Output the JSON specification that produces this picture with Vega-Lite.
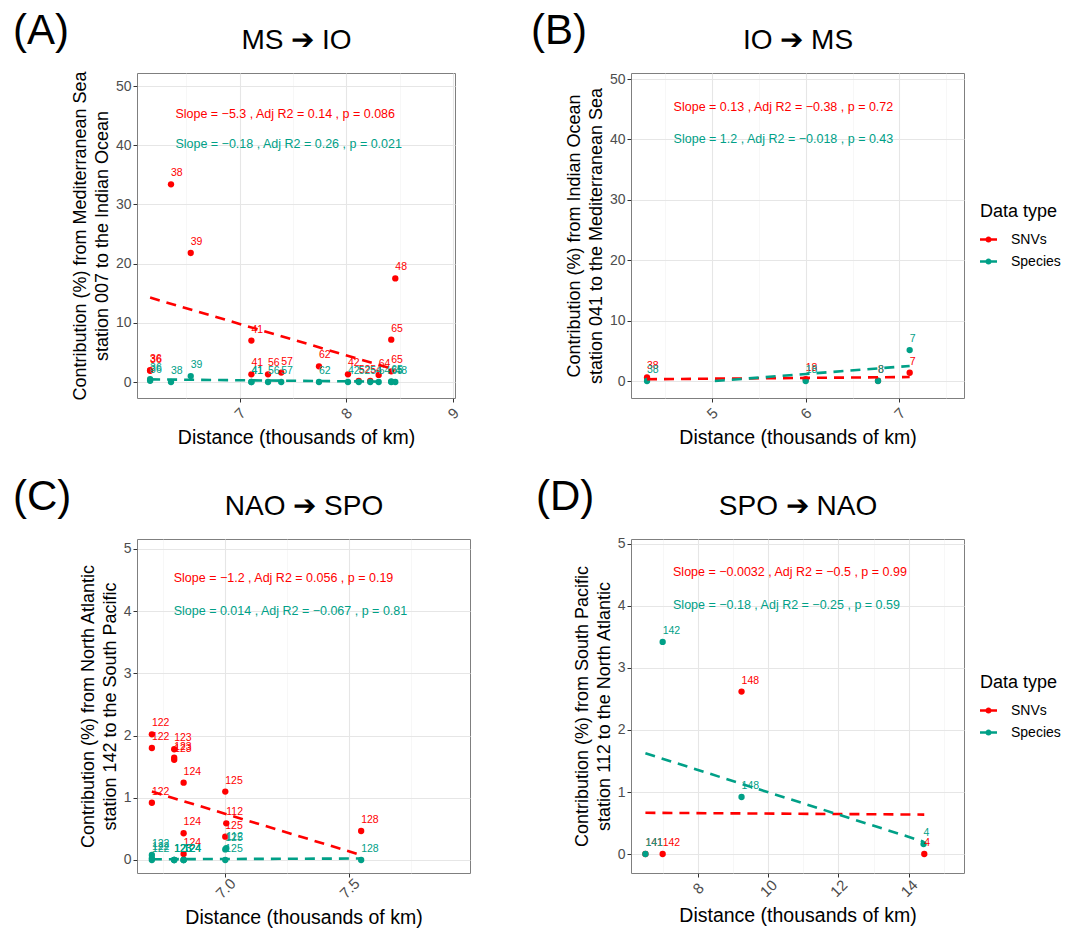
{
 "$schema": "https://vega.github.io/schema/vega-lite/v6.json",
 "background": "white",
 "padding": {"left": 12, "top": 9, "right": 5, "bottom": 5},
 "datasets": {
  "points": [
   {"p":"A","station":"36","distance":6.16,"value":2.0,"type":"SNVs"},
   {"p":"A","station":"36","distance":6.16,"value":1.9,"type":"SNVs"},
   {"p":"A","station":"38","distance":6.356,"value":33.4,"type":"SNVs"},
   {"p":"A","station":"39","distance":6.541,"value":21.8,"type":"SNVs"},
   {"p":"A","station":"41","distance":7.11,"value":7.0,"type":"SNVs"},
   {"p":"A","station":"41","distance":7.11,"value":1.3,"type":"SNVs"},
   {"p":"A","station":"56","distance":7.266,"value":1.3,"type":"SNVs"},
   {"p":"A","station":"57","distance":7.39,"value":1.6,"type":"SNVs"},
   {"p":"A","station":"62","distance":7.744,"value":2.65,"type":"SNVs"},
   {"p":"A","station":"42","distance":8.016,"value":1.3,"type":"SNVs"},
   {"p":"A","station":"52","distance":8.117,"value":0.2,"type":"SNVs"},
   {"p":"A","station":"54","distance":8.225,"value":0.2,"type":"SNVs"},
   {"p":"A","station":"64","distance":8.304,"value":1.2,"type":"SNVs"},
   {"p":"A","station":"65","distance":8.422,"value":7.16,"type":"SNVs"},
   {"p":"A","station":"65","distance":8.422,"value":1.8,"type":"SNVs"},
   {"p":"A","station":"48","distance":8.46,"value":17.5,"type":"SNVs"},
   {"p":"A","station":"36","distance":6.16,"value":0.5,"type":"Species"},
   {"p":"A","station":"36","distance":6.16,"value":0.2,"type":"Species"},
   {"p":"A","station":"38","distance":6.356,"value":0.0,"type":"Species"},
   {"p":"A","station":"39","distance":6.541,"value":1.0,"type":"Species"},
   {"p":"A","station":"41","distance":7.11,"value":0.0,"type":"Species"},
   {"p":"A","station":"41","distance":7.11,"value":0.0,"type":"Species"},
   {"p":"A","station":"56","distance":7.266,"value":0.0,"type":"Species"},
   {"p":"A","station":"57","distance":7.39,"value":0.0,"type":"Species"},
   {"p":"A","station":"62","distance":7.744,"value":0.0,"type":"Species"},
   {"p":"A","station":"42","distance":8.016,"value":0.0,"type":"Species"},
   {"p":"A","station":"52","distance":8.117,"value":0.0,"type":"Species"},
   {"p":"A","station":"54","distance":8.225,"value":0.0,"type":"Species"},
   {"p":"A","station":"64","distance":8.304,"value":0.0,"type":"Species"},
   {"p":"A","station":"65","distance":8.422,"value":0.1,"type":"Species"},
   {"p":"A","station":"65","distance":8.422,"value":0.0,"type":"Species"},
   {"p":"A","station":"48","distance":8.46,"value":0.0,"type":"Species"},
   {"p":"B","station":"38","distance":4.306,"value":0.6,"type":"SNVs"},
   {"p":"B","station":"18","distance":6.0,"value":0.3,"type":"SNVs"},
   {"p":"B","station":"8","distance":6.772,"value":0.05,"type":"SNVs"},
   {"p":"B","station":"7","distance":7.11,"value":1.37,"type":"SNVs"},
   {"p":"B","station":"38","distance":4.306,"value":0.0,"type":"Species"},
   {"p":"B","station":"18","distance":6.0,"value":0.0,"type":"Species"},
   {"p":"B","station":"8","distance":6.772,"value":0.0,"type":"Species"},
   {"p":"B","station":"7","distance":7.11,"value":5.13,"type":"Species"},
   {"p":"C","station":"122","distance":6.704,"value":2.02,"type":"SNVs"},
   {"p":"C","station":"122","distance":6.704,"value":1.80,"type":"SNVs"},
   {"p":"C","station":"122","distance":6.704,"value":0.92,"type":"SNVs"},
   {"p":"C","station":"123","distance":6.794,"value":1.78,"type":"SNVs"},
   {"p":"C","station":"123","distance":6.794,"value":1.645,"type":"SNVs"},
   {"p":"C","station":"123","distance":6.794,"value":1.61,"type":"SNVs"},
   {"p":"C","station":"124","distance":6.832,"value":1.243,"type":"SNVs"},
   {"p":"C","station":"124","distance":6.832,"value":0.43,"type":"SNVs"},
   {"p":"C","station":"124","distance":6.832,"value":0.096,"type":"SNVs"},
   {"p":"C","station":"125","distance":7.0,"value":1.10,"type":"SNVs"},
   {"p":"C","station":"112","distance":7.004,"value":0.59,"type":"SNVs"},
   {"p":"C","station":"125","distance":7.0,"value":0.375,"type":"SNVs"},
   {"p":"C","station":"128","distance":7.548,"value":0.466,"type":"SNVs"},
   {"p":"C","station":"122","distance":6.704,"value":0.08,"type":"Species"},
   {"p":"C","station":"122","distance":6.704,"value":0.03,"type":"Species"},
   {"p":"C","station":"122","distance":6.704,"value":0.0,"type":"Species"},
   {"p":"C","station":"123","distance":6.794,"value":0.0,"type":"Species"},
   {"p":"C","station":"123","distance":6.794,"value":0.0,"type":"Species"},
   {"p":"C","station":"123","distance":6.794,"value":0.0,"type":"Species"},
   {"p":"C","station":"124","distance":6.832,"value":0.0,"type":"Species"},
   {"p":"C","station":"124","distance":6.832,"value":0.0,"type":"Species"},
   {"p":"C","station":"124","distance":6.832,"value":0.0,"type":"Species"},
   {"p":"C","station":"125","distance":7.0,"value":0.17,"type":"Species"},
   {"p":"C","station":"112","distance":7.004,"value":0.19,"type":"Species"},
   {"p":"C","station":"125","distance":7.0,"value":0.0,"type":"Species"},
   {"p":"C","station":"128","distance":7.548,"value":0.0,"type":"Species"},
   {"p":"D","station":"141","distance":6.51,"value":0.0,"type":"SNVs"},
   {"p":"D","station":"142","distance":7.0,"value":0.0,"type":"SNVs"},
   {"p":"D","station":"148","distance":9.244,"value":2.62,"type":"SNVs"},
   {"p":"D","station":"4","distance":14.44,"value":0.0,"type":"SNVs"},
   {"p":"D","station":"141","distance":6.51,"value":0.0,"type":"Species"},
   {"p":"D","station":"142","distance":7.0,"value":3.42,"type":"Species"},
   {"p":"D","station":"148","distance":9.244,"value":0.92,"type":"Species"},
   {"p":"D","station":"4","distance":14.42,"value":0.16,"type":"Species"}
  ],
  "lines": [
   {"p":"A","type":"SNVs","distance":6.16,"value":14.26},
   {"p":"A","type":"SNVs","distance":8.46,"value":2.07},
   {"p":"A","type":"Species","distance":6.16,"value":0.45},
   {"p":"A","type":"Species","distance":8.46,"value":0.04},
   {"p":"B","type":"SNVs","distance":4.306,"value":0.3},
   {"p":"B","type":"SNVs","distance":7.11,"value":0.66},
   {"p":"B","type":"Species","distance":5.03,"value":0.0},
   {"p":"B","type":"Species","distance":7.11,"value":2.5},
   {"p":"C","type":"SNVs","distance":6.704,"value":1.10},
   {"p":"C","type":"SNVs","distance":7.548,"value":0.08},
   {"p":"C","type":"Species","distance":6.704,"value":0.012},
   {"p":"C","type":"Species","distance":7.548,"value":0.024},
   {"p":"D","type":"SNVs","distance":6.51,"value":0.665},
   {"p":"D","type":"SNVs","distance":14.44,"value":0.636},
   {"p":"D","type":"Species","distance":6.51,"value":1.625},
   {"p":"D","type":"Species","distance":14.42,"value":0.20}
  ],
  "annots": [
   {"p":"A","type":"SNVs","distance":6.397,"value":45.3,"label":"Slope =  −5.3 , Adj R2 =  0.14 , p =  0.086"},
   {"p":"A","type":"Species","distance":6.397,"value":40.2,"label":"Slope =  −0.18 , Adj R2 =  0.26 , p =  0.021"},
   {"p":"B","type":"SNVs","distance":4.59,"value":45.4,"label":"Slope =  0.13 , Adj R2 =  −0.38 , p =  0.72"},
   {"p":"B","type":"Species","distance":4.59,"value":40.05,"label":"Slope =  1.2 , Adj R2 =  −0.018 , p =  0.43"},
   {"p":"C","type":"SNVs","distance":6.792,"value":4.54,"label":"Slope =  −1.2 , Adj R2 =  0.056 , p =  0.19"},
   {"p":"C","type":"Species","distance":6.792,"value":4.0,"label":"Slope =  0.014 , Adj R2 =  −0.067 , p =  0.81"},
   {"p":"D","type":"SNVs","distance":7.295,"value":4.54,"label":"Slope =  −0.0032 , Adj R2 =  −0.5 , p =  0.99"},
   {"p":"D","type":"Species","distance":7.295,"value":4.01,"label":"Slope =  −0.18 , Adj R2 =  −0.25 , p =  0.59"}
  ]
 },
 "columns": 2,
 "spacing": {"row": 141, "column": 161},
 "bounds": "flush",
 "align": "each",
 "resolve": {"scale": {"color": "independent"}, "legend": {"color": "independent"}},
 "concat": [
  {
   "width": 318, "height": 325,
   "title": {"text": "(A)", "dx": -124, "offset": -27},
   "layer": [
    {"data": {"name": "points"}, "transform": [{"filter": "datum.p === 'A'"}],
     "mark": {"type": "circle", "size": 40, "opacity": 1},
     "encoding": {
      "x": {"field": "distance", "type": "quantitative", "scale": {"domain": [6.037, 9.02], "nice": false, "zero": false},
       "axis": {"title": "Distance (thousands of km)", "values": [6.5, 7, 7.5, 8, 8.5, 9],
        "labelExpr": "datum.value % 1 === 0 ? format(datum.value, 'd') : ''",
        "tickColor": {"condition": {"test": "datum.value % 1 !== 0", "value": "transparent"}, "value": "#333333"},
        "gridColor": {"condition": {"test": "datum.value % 1 !== 0", "value": "#F2F2F2"}, "value": "#E6E6E6"},
        "gridWidth": {"condition": {"test": "datum.value % 1 !== 0", "value": 0.6}, "value": 1.1}}},
      "y": {"field": "value", "type": "quantitative", "scale": {"domain": [-2.7, 52.2], "nice": false, "zero": false},
       "axis": {"title": ["Contribution (%) from Mediterranean Sea", "station 007 to the Indian Ocean"], "values": [0, 5, 10, 15, 20, 25, 30, 35, 40, 45, 50],
        "labelExpr": "datum.value % 10 === 0 ? format(datum.value, 'd') : ''",
        "tickColor": {"condition": {"test": "datum.value % 10 !== 0", "value": "transparent"}, "value": "#333333"},
        "gridColor": {"condition": {"test": "datum.value % 10 !== 0", "value": "#F2F2F2"}, "value": "#E6E6E6"},
        "gridWidth": {"condition": {"test": "datum.value % 10 !== 0", "value": 0.6}, "value": 1.1}}},
      "color": {"field": "type", "type": "nominal", "scale": {"domain": ["SNVs", "Species"], "range": ["#FF0000", "#00A087"]}, "legend": null}
     }},
    {"data": {"name": "points"}, "transform": [{"filter": "datum.p === 'A'"}],
     "mark": {"type": "text", "align": "left", "baseline": "middle", "dy": -11, "fontSize": 10.5},
     "encoding": {"x": {"field": "distance", "type": "quantitative", "axis": null}, "y": {"field": "value", "type": "quantitative"}, "text": {"field": "station"}, "color": {"field": "type", "type": "nominal", "legend": null}}},
    {"data": {"name": "lines"}, "transform": [{"filter": "datum.p === 'A'"}],
     "mark": {"type": "line", "strokeDash": [10, 7], "strokeWidth": 2.6},
     "encoding": {"x": {"field": "distance", "type": "quantitative", "axis": null}, "y": {"field": "value", "type": "quantitative"}, "color": {"field": "type", "type": "nominal", "legend": null}}},
    {"data": {"name": "annots"}, "transform": [{"filter": "datum.p === 'A'"}],
     "mark": {"type": "text", "align": "left", "baseline": "middle", "fontSize": 12.5},
     "encoding": {"x": {"field": "distance", "type": "quantitative", "axis": {"orient": "top", "title": "MS ➔ IO", "titleFontSize": 28, "labels": false, "ticks": false, "domain": false, "grid": false, "titlePadding": 19}},
      "y": {"field": "value", "type": "quantitative"}, "text": {"field": "label"}, "color": {"field": "type", "type": "nominal", "legend": null}}}
   ],
   "resolve": {"axis": {"x": "independent"}}
  },
  {
   "width": 333, "height": 325,
   "title": {"text": "(B)", "dx": -100, "offset": -27},
   "layer": [
    {"data": {"name": "points"}, "transform": [{"filter": "datum.p === 'B'"}],
     "mark": {"type": "circle", "size": 40, "opacity": 1},
     "encoding": {
      "x": {"field": "distance", "type": "quantitative", "scale": {"domain": [4.135, 7.69], "nice": false, "zero": false},
       "axis": {"title": "Distance (thousands of km)", "values": [4.5, 5, 5.5, 6, 6.5, 7, 7.5],
        "labelExpr": "datum.value % 1 === 0 ? format(datum.value, 'd') : ''",
        "tickColor": {"condition": {"test": "datum.value % 1 !== 0", "value": "transparent"}, "value": "#333333"},
        "gridColor": {"condition": {"test": "datum.value % 1 !== 0", "value": "#F2F2F2"}, "value": "#E6E6E6"},
        "gridWidth": {"condition": {"test": "datum.value % 1 !== 0", "value": 0.6}, "value": 1.1}}},
      "y": {"field": "value", "type": "quantitative", "scale": {"domain": [-2.81, 51.0], "nice": false, "zero": false},
       "axis": {"title": ["Contribution (%) from Indian Ocean", "station 041 to the Mediterranean Sea"], "values": [0, 5, 10, 15, 20, 25, 30, 35, 40, 45, 50],
        "labelExpr": "datum.value % 10 === 0 ? format(datum.value, 'd') : ''",
        "tickColor": {"condition": {"test": "datum.value % 10 !== 0", "value": "transparent"}, "value": "#333333"},
        "gridColor": {"condition": {"test": "datum.value % 10 !== 0", "value": "#F2F2F2"}, "value": "#E6E6E6"},
        "gridWidth": {"condition": {"test": "datum.value % 10 !== 0", "value": 0.6}, "value": 1.1}}},
      "color": {"field": "type", "type": "nominal", "scale": {"domain": ["SNVs", "Species"], "range": ["#FF0000", "#00A087"]},
       "legend": {"title": "Data type", "orient": "none", "legendX": 349, "legendY": 130}}
     }},
    {"data": {"name": "points"}, "transform": [{"filter": "datum.p === 'B'"}],
     "mark": {"type": "text", "align": "left", "baseline": "middle", "dy": -11, "fontSize": 10.5},
     "encoding": {"x": {"field": "distance", "type": "quantitative", "axis": null}, "y": {"field": "value", "type": "quantitative"}, "text": {"field": "station"}, "color": {"field": "type", "type": "nominal", "legend": null}}},
    {"data": {"name": "lines"}, "transform": [{"filter": "datum.p === 'B'"}],
     "mark": {"type": "line", "strokeDash": [10, 7], "strokeWidth": 2.6},
     "encoding": {"x": {"field": "distance", "type": "quantitative", "axis": null}, "y": {"field": "value", "type": "quantitative"}, "color": {"field": "type", "type": "nominal", "legend": null}}},
    {"data": {"name": "annots"}, "transform": [{"filter": "datum.p === 'B'"}],
     "mark": {"type": "text", "align": "left", "baseline": "middle", "fontSize": 12.5},
     "encoding": {"x": {"field": "distance", "type": "quantitative", "axis": {"orient": "top", "title": "IO ➔ MS", "titleFontSize": 28, "labels": false, "ticks": false, "domain": false, "grid": false, "titlePadding": 19}},
      "y": {"field": "value", "type": "quantitative"}, "text": {"field": "label"}, "color": {"field": "type", "type": "nominal", "legend": null}}}
   ],
   "resolve": {"axis": {"x": "independent"}}
  },
  {
   "width": 333, "height": 334,
   "title": {"text": "(C)", "dx": -124, "offset": -27},
   "layer": [
    {"data": {"name": "points"}, "transform": [{"filter": "datum.p === 'C'"}],
     "mark": {"type": "circle", "size": 40, "opacity": 1},
     "encoding": {
      "x": {"field": "distance", "type": "quantitative", "scale": {"domain": [6.644, 7.987], "nice": false, "zero": false},
       "axis": {"title": "Distance (thousands of km)", "values": [6.75, 7.0, 7.25, 7.5, 7.75],
        "labelExpr": "(datum.value * 2) % 1 === 0 ? format(datum.value, '.1f') : ''",
        "tickColor": {"condition": {"test": "(datum.value * 2) % 1 !== 0", "value": "transparent"}, "value": "#333333"},
        "gridColor": {"condition": {"test": "(datum.value * 2) % 1 !== 0", "value": "#F2F2F2"}, "value": "#E6E6E6"},
        "gridWidth": {"condition": {"test": "(datum.value * 2) % 1 !== 0", "value": 0.6}, "value": 1.1}}},
      "y": {"field": "value", "type": "quantitative", "scale": {"domain": [-0.209, 5.16], "nice": false, "zero": false},
       "axis": {"title": ["Contribution (%) from North Atlantic", "station 142 to the South Pacific"], "values": [0, 0.5, 1, 1.5, 2, 2.5, 3, 3.5, 4, 4.5, 5],
        "labelExpr": "datum.value % 1 === 0 ? format(datum.value, 'd') : ''",
        "tickColor": {"condition": {"test": "datum.value % 1 !== 0", "value": "transparent"}, "value": "#333333"},
        "gridColor": {"condition": {"test": "datum.value % 1 !== 0", "value": "#F2F2F2"}, "value": "#E6E6E6"},
        "gridWidth": {"condition": {"test": "datum.value % 1 !== 0", "value": 0.6}, "value": 1.1}}},
      "color": {"field": "type", "type": "nominal", "scale": {"domain": ["SNVs", "Species"], "range": ["#FF0000", "#00A087"]}, "legend": null}
     }},
    {"data": {"name": "points"}, "transform": [{"filter": "datum.p === 'C'"}],
     "mark": {"type": "text", "align": "left", "baseline": "middle", "dy": -11, "fontSize": 10.5},
     "encoding": {"x": {"field": "distance", "type": "quantitative", "axis": null}, "y": {"field": "value", "type": "quantitative"}, "text": {"field": "station"}, "color": {"field": "type", "type": "nominal", "legend": null}}},
    {"data": {"name": "lines"}, "transform": [{"filter": "datum.p === 'C'"}],
     "mark": {"type": "line", "strokeDash": [10, 7], "strokeWidth": 2.6},
     "encoding": {"x": {"field": "distance", "type": "quantitative", "axis": null}, "y": {"field": "value", "type": "quantitative"}, "color": {"field": "type", "type": "nominal", "legend": null}}},
    {"data": {"name": "annots"}, "transform": [{"filter": "datum.p === 'C'"}],
     "mark": {"type": "text", "align": "left", "baseline": "middle", "fontSize": 12.5},
     "encoding": {"x": {"field": "distance", "type": "quantitative", "axis": {"orient": "top", "title": "NAO ➔ SPO", "titleFontSize": 28, "labels": false, "ticks": false, "domain": false, "grid": false, "titlePadding": 19}},
      "y": {"field": "value", "type": "quantitative"}, "text": {"field": "label"}, "color": {"field": "type", "type": "nominal", "legend": null}}}
   ],
   "resolve": {"axis": {"x": "independent"}}
  },
  {
   "width": 333, "height": 334,
   "title": {"text": "(D)", "dx": -95, "offset": -27},
   "layer": [
    {"data": {"name": "points"}, "transform": [{"filter": "datum.p === 'D'"}],
     "mark": {"type": "circle", "size": 40, "opacity": 1},
     "encoding": {
      "x": {"field": "distance", "type": "quantitative", "scale": {"domain": [6.10, 15.57], "nice": false, "zero": false},
       "axis": {"title": "Distance (thousands of km)", "values": [7, 8, 9, 10, 11, 12, 13, 14, 15],
        "labelExpr": "datum.value % 2 === 0 ? format(datum.value, 'd') : ''",
        "tickColor": {"condition": {"test": "datum.value % 2 !== 0", "value": "transparent"}, "value": "#333333"},
        "gridColor": {"condition": {"test": "datum.value % 2 !== 0", "value": "#F2F2F2"}, "value": "#E6E6E6"},
        "gridWidth": {"condition": {"test": "datum.value % 2 !== 0", "value": 0.6}, "value": 1.1}}},
      "y": {"field": "value", "type": "quantitative", "scale": {"domain": [-0.306, 5.08], "nice": false, "zero": false},
       "axis": {"title": ["Contribution (%) from South Pacific", "station 112 to the North Atlantic"], "values": [0, 0.5, 1, 1.5, 2, 2.5, 3, 3.5, 4, 4.5, 5],
        "labelExpr": "datum.value % 1 === 0 ? format(datum.value, 'd') : ''",
        "tickColor": {"condition": {"test": "datum.value % 1 !== 0", "value": "transparent"}, "value": "#333333"},
        "gridColor": {"condition": {"test": "datum.value % 1 !== 0", "value": "#F2F2F2"}, "value": "#E6E6E6"},
        "gridWidth": {"condition": {"test": "datum.value % 1 !== 0", "value": 0.6}, "value": 1.1}}},
      "color": {"field": "type", "type": "nominal", "scale": {"domain": ["SNVs", "Species"], "range": ["#FF0000", "#00A087"]},
       "legend": {"title": "Data type", "orient": "none", "legendX": 349, "legendY": 135}}
     }},
    {"data": {"name": "points"}, "transform": [{"filter": "datum.p === 'D'"}],
     "mark": {"type": "text", "align": "left", "baseline": "middle", "dy": -11, "fontSize": 10.5},
     "encoding": {"x": {"field": "distance", "type": "quantitative", "axis": null}, "y": {"field": "value", "type": "quantitative"}, "text": {"field": "station"}, "color": {"field": "type", "type": "nominal", "legend": null}}},
    {"data": {"name": "lines"}, "transform": [{"filter": "datum.p === 'D'"}],
     "mark": {"type": "line", "strokeDash": [10, 7], "strokeWidth": 2.6},
     "encoding": {"x": {"field": "distance", "type": "quantitative", "axis": null}, "y": {"field": "value", "type": "quantitative"}, "color": {"field": "type", "type": "nominal", "legend": null}}},
    {"data": {"name": "annots"}, "transform": [{"filter": "datum.p === 'D'"}],
     "mark": {"type": "text", "align": "left", "baseline": "middle", "fontSize": 12.5},
     "encoding": {"x": {"field": "distance", "type": "quantitative", "axis": {"orient": "top", "title": "SPO ➔ NAO", "titleFontSize": 28, "labels": false, "ticks": false, "domain": false, "grid": false, "titlePadding": 19}},
      "y": {"field": "value", "type": "quantitative"}, "text": {"field": "label"}, "color": {"field": "type", "type": "nominal", "legend": null}}}
   ],
   "resolve": {"axis": {"x": "independent"}}
  }
 ],
 "config": {
  "font": "Liberation Sans",
  "view": {"stroke": "#7F7F7F", "strokeWidth": 1},
  "title": {"fontSize": 42, "fontWeight": "normal", "color": "#000000", "anchor": "start", "frame": "group"},
  "axis": {"domain": false, "tickColor": "#333333", "tickSize": 4, "labelColor": "#4D4D4D", "labelFontSize": 14, "titleFontSize": 18, "titleFontWeight": "normal", "titleColor": "#000000", "labelFlush": false, "labelOverlap": false, "labelBound": false},
  "axisX": {"labelAngle": -45, "labelAlign": "center", "labelBaseline": "middle", "labelPadding": 11, "labelFontSize": 15, "titlePadding": 7, "titleFontSize": 19.5},
  "axisY": {"labelPadding": 2, "titlePadding": 4, "titleLineHeight": 22},
  "legend": {"titleFontSize": 18, "titleFontWeight": "normal", "titleColor": "#000000", "labelFontSize": 14, "labelColor": "#000000", "symbolType": "M-1,-0.14H1V0.14H-1Z M0.36,0A0.36,0.36,0,1,1,-0.36,0A0.36,0.36,0,1,1,0.36,0Z", "symbolSize": 289, "symbolStrokeWidth": 0, "rowPadding": 6, "titlePadding": 10, "labelOffset": 14}
 }
}
